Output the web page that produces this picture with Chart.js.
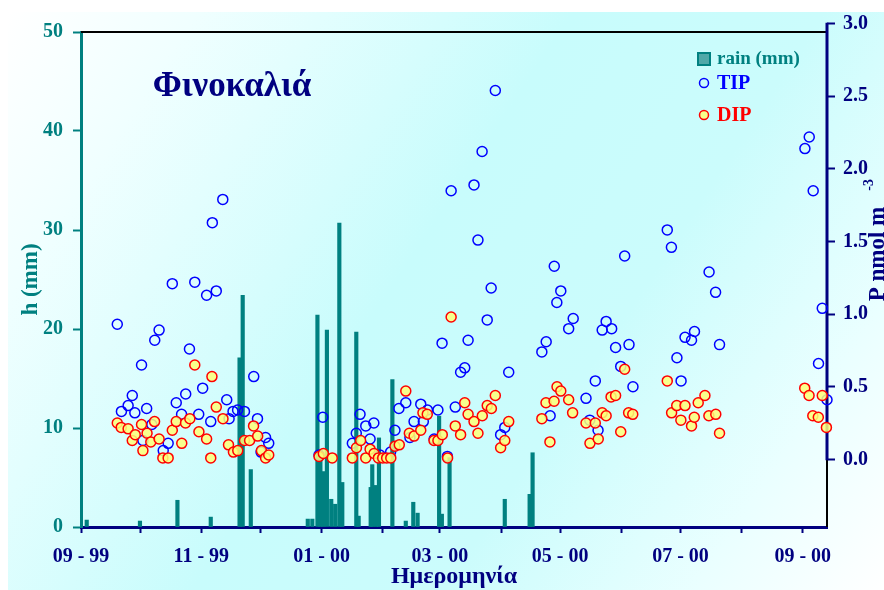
<!DOCTYPE html>
<html>
<head>
<meta charset="utf-8">
<script src="https://cdn.jsdelivr.net/npm/chart.js@4.4.0/dist/chart.umd.min.js"></script>
<style>
html, body { margin: 0; padding: 0; background: #fff; }
#chart { display: block; }
</style>
</head>
<body>
<canvas id="chart" width="884" height="590"></canvas>
<script>
// x values are days counted from 1 Sep 1999
var tickDays = [0, 30, 61, 91, 122, 153, 182, 213, 243, 274, 304, 335, 366];
var tickLabels = ['09 - 99', '', '11 - 99', '', '01 - 00', '', '03 - 00', '', '05 - 00', '', '07 - 00', '', '09 - 00'];
var pTicks = [0, 0.5, 1, 1.5, 2, 2.5, 3];

var rainDays = [2.9, 29.9, 48.9, 65.8, 80.4, 82.0, 86.1, 115.0, 117.3, 119.9, 121.4, 122.9, 124.7, 126.9, 128.9,
    131.0, 132.5, 139.6, 140.8, 146.9, 147.7, 149.6, 151.1, 157.9, 164.7, 168.5, 170.7, 181.6, 183.0, 186.9,
    214.9, 227.5, 229.0];
var rainMm = [0.7, 0.6, 2.7, 1.0, 17.1, 23.4, 5.8, 0.8, 0.8, 21.4, 7.8, 5.6, 19.9, 2.8, 2.3,
    30.7, 4.5, 19.7, 1.1, 4.0, 6.3, 4.2, 9.0, 14.9, 0.6, 2.5, 1.4, 11.2, 1.3, 7.0,
    2.8, 3.3, 7.5];

var tipDays = [18.4, 20.5, 23.9, 26.0, 27.3, 30.7, 31.4, 33.3, 35.9, 37.4, 39.6, 41.7, 44.2, 46.3, 48.3,
    51.0, 53.1, 55.0, 57.7, 59.7, 61.7, 63.7, 65.8, 66.6, 68.6, 71.9, 73.9, 75.1, 77.1, 79.4,
    82.9, 87.6, 89.5, 91.3, 93.6, 95.2, 120.7, 122.6, 137.6, 139.6, 141.5, 144.4, 146.6, 148.5, 151.6,
    157.0, 159.2, 161.2, 164.7, 166.8, 168.9, 172.3, 173.6, 175.7, 179.1, 181.0, 183.1, 185.8, 187.7, 189.8,
    192.5, 194.6, 196.3, 199.3, 201.3, 203.4, 206.0, 208.0, 210.1, 212.8, 214.9, 216.9, 233.7, 235.9, 237.9,
    240.0, 241.3, 243.3, 247.3, 249.6, 256.1, 258.0, 260.8, 262.2, 264.3, 266.3, 269.1, 271.1, 273.7, 275.7,
    277.9, 279.9, 297.3, 299.4, 302.2, 304.3, 306.3, 309.6, 311.1, 318.5, 321.8, 323.8, 367.1, 369.3, 371.3,
    374.0, 375.9, 378.3];
var tipValues = [0.93, 0.33, 0.37, 0.44, 0.32, 0.65, 0.13, 0.35, 0.24, 0.82, 0.89, 0.06, 0.11, 1.21, 0.39,
    0.31, 0.45, 0.76, 1.22, 0.31, 0.49, 1.13, 0.26, 1.63, 1.16, 1.79, 0.41, 0.28, 0.33, 0.34,
    0.33, 0.57, 0.28, 0.05, 0.15, 0.11, 0.03, 0.29, 0.11, 0.18, 0.31, 0.23, 0.14, 0.25, 0.03,
    0.05, 0.20, 0.35, 0.39, 0.15, 0.26, 0.38, 0.26, 0.34, 0.14, 0.34, 0.80, 0.02, 1.85, 0.36,
    0.60, 0.63, 0.82, 1.89, 1.51, 2.12, 0.96, 1.18, 2.54, 0.17, 0.22, 0.60, 0.74, 0.81, 0.30,
    1.33, 1.08, 1.16, 0.90, 0.97, 0.42, 0.27, 0.54, 0.20, 0.89, 0.95, 0.90, 0.77, 0.64, 1.40,
    0.79, 0.50, 1.58, 1.46, 0.70, 0.54, 0.84, 0.82, 0.88, 1.29, 1.15, 0.79, 2.14, 2.22, 1.85,
    0.66, 1.04, 0.41];

var dipDays = [18.4, 20.4, 23.9, 26.0, 27.5, 30.7, 31.4, 33.5, 35.4, 37.3, 39.6, 41.5, 44.2, 46.3, 48.3,
    51.1, 53.0, 55.2, 57.7, 59.8, 63.7, 65.8, 66.4, 68.6, 72.0, 74.8, 77.3, 79.5, 82.9, 85.5,
    87.5, 89.6, 91.5, 93.6, 95.2, 120.7, 122.9, 127.4, 137.6, 139.7, 141.8, 144.4, 146.6, 148.6, 150.8,
    153.0, 155.0, 157.1, 159.2, 161.4, 164.7, 166.5, 168.9, 172.3, 173.4, 175.6, 179.0, 181.0, 183.2, 185.9,
    187.7, 189.8, 192.5, 194.6, 196.3, 199.3, 201.3, 203.5, 206.0, 208.1, 210.1, 212.8, 214.9, 216.9, 233.7,
    235.8, 237.8, 239.9, 241.4, 243.3, 247.3, 249.3, 256.1, 258.1, 260.8, 262.3, 264.3, 266.3, 268.8, 271.1,
    273.7, 275.7, 277.7, 279.8, 297.3, 299.5, 302.1, 304.2, 306.3, 309.6, 311.0, 313.0, 316.4, 318.4, 321.9,
    323.8, 367.0, 369.2, 371.1, 373.9, 375.9, 378.0];
var dipValues = [0.25, 0.22, 0.21, 0.13, 0.17, 0.24, 0.06, 0.18, 0.12, 0.26, 0.14, 0.01, 0.01, 0.20, 0.26,
    0.11, 0.25, 0.28, 0.65, 0.19, 0.14, 0.01, 0.57, 0.36, 0.28, 0.10, 0.05, 0.06, 0.13, 0.13,
    0.23, 0.16, 0.06, 0.01, 0.03, 0.02, 0.04, 0.01, 0.01, 0.08, 0.13, 0.01, 0.07, 0.04, 0.01,
    0.01, 0.01, 0.01, 0.09, 0.10, 0.47, 0.18, 0.16, 0.20, 0.32, 0.31, 0.13, 0.13, 0.17, 0.01,
    0.98, 0.23, 0.17, 0.39, 0.31, 0.26, 0.18, 0.30, 0.37, 0.35, 0.44, 0.08, 0.13, 0.26, 0.28,
    0.39, 0.12, 0.40, 0.50, 0.47, 0.41, 0.32, 0.25, 0.11, 0.25, 0.14, 0.32, 0.30, 0.43, 0.44,
    0.19, 0.62, 0.32, 0.31, 0.54, 0.32, 0.37, 0.27, 0.37, 0.23, 0.29, 0.39, 0.44, 0.30, 0.31,
    0.18, 0.49, 0.44, 0.30, 0.29, 0.44, 0.22];

var teal = '#008080';
var navy = '#000080';
var serif = '"Liberation Serif", "DejaVu Serif", serif';

function pairs(xs, ys) {
    return xs.map(function(x, i) { return { x: x, y: ys[i] }; });
}

var decor = {
    id: 'decor',
    beforeDraw: function(chart) {
        var c = chart.ctx;
        c.save();
        c.fillStyle = '#ffffff';
        c.fillRect(0, 0, chart.width, chart.height);
        var g = c.createLinearGradient(8, 12, 884, 590);
        g.addColorStop(0, '#ffffff');
        g.addColorStop(0.15, '#f0ffff');
        g.addColorStop(0.45, '#c8fcfc');
        g.addColorStop(0.65, '#cbfcfc');
        g.addColorStop(0.85, '#eaffff');
        g.addColorStop(1, '#ffffff');
        c.fillStyle = g;
        c.fillRect(8, 12, chart.width - 8, chart.height - 12);
        c.restore();
    },
    beforeDatasetsDraw: function(chart) {
        var c = chart.ctx, a = chart.chartArea, p = chart.scales.y2;
        var y0 = p.getPixelForValue(0), yTop = p.getPixelForValue(3);
        c.save();
        c.strokeStyle = '#000';
        c.lineWidth = 2;
        c.beginPath();
        c.moveTo(a.left, a.top);
        c.lineTo(a.right, a.top);
        c.moveTo(a.right, a.bottom);
        c.lineTo(a.right, y0);
        c.stroke();
        c.strokeStyle = navy;
        c.lineWidth = 3;
        c.beginPath();
        c.moveTo(a.right, y0 + 1);
        c.lineTo(a.right, yTop - 1);
        c.stroke();
        c.restore();
    },
    afterDraw: function(chart) {
        var c = chart.ctx;
        c.save();
        // station name
        c.fillStyle = navy;
        c.font = 'bold 35px ' + serif;
        c.textAlign = 'center';
        c.textBaseline = 'alphabetic';
        c.fillText('Φινοκαλιά', 232, 96);

        // legend
        c.textAlign = 'left';
        c.textBaseline = 'middle';
        c.fillStyle = '#4fa8a8';
        c.fillRect(698, 53, 12, 12);
        c.strokeStyle = teal;
        c.lineWidth = 2;
        c.strokeRect(698, 53, 12, 12);
        c.font = 'bold 19px ' + serif;
        c.fillStyle = teal;
        c.fillText('rain (mm)', 717, 59);

        c.lineWidth = 1.5;
        c.strokeStyle = '#0000ff';
        c.beginPath();
        c.arc(704, 83, 4.5, 0, Math.PI * 2);
        c.stroke();
        c.font = 'bold 20px ' + serif;
        c.fillStyle = '#0000ff';
        c.fillText('TIP', 717, 84);

        c.fillStyle = 'rgba(255,255,120,0.85)';
        c.strokeStyle = '#ff0000';
        c.beginPath();
        c.arc(704, 115, 4.5, 0, Math.PI * 2);
        c.fill();
        c.stroke();
        c.fillStyle = '#ff0000';
        c.fillText('DIP', 717, 116);

        // right axis title, read bottom to top
        c.translate(884, 254);
        c.rotate(-Math.PI / 2);
        c.fillStyle = navy;
        c.font = 'bold 23px ' + serif;
        c.textAlign = 'center';
        c.textBaseline = 'alphabetic';
        c.fillText('P nmol m', 0, 0);
        var w = c.measureText('P nmol m').width;
        c.font = 'bold 14px ' + serif;
        c.textAlign = 'left';
        c.fillText('-3', w / 2 + 16, -11);
        c.restore();
    }
};

var ctx = document.getElementById('chart').getContext('2d');
var myChart = new Chart(ctx, {
    type: 'bar',
    data: {
        datasets: [{
            type: 'scatter',
            label: 'DIP',
            data: pairs(dipDays, dipValues),
            yAxisID: 'y2',
            pointRadius: 5,
            pointBorderWidth: 1.5,
            borderColor: '#ff0000',
            backgroundColor: 'rgba(255,255,120,0.85)',
            clip: false,
            order: 0
        }, {
            type: 'scatter',
            label: 'TIP',
            data: pairs(tipDays, tipValues),
            yAxisID: 'y2',
            pointRadius: 5,
            pointBorderWidth: 1.5,
            borderColor: '#0000ff',
            backgroundColor: 'rgba(0,0,0,0)',
            clip: false,
            order: 1
        }, {
            type: 'bar',
            label: 'rain (mm)',
            data: pairs(rainDays, rainMm),
            yAxisID: 'y',
            backgroundColor: teal,
            borderWidth: 0,
            barThickness: 3.5,
            grouped: false,
            order: 2
        }]
    },
    options: {
        responsive: false,
        animation: false,
        layout: { padding: { top: 32, left: 0, right: 0, bottom: 0 } },
        plugins: {
            legend: { display: false },
            tooltip: { enabled: false }
        },
        scales: {
            x: {
                type: 'linear',
                position: 'bottom',
                min: 0,
                max: 378.3,
                offset: false,
                afterBuildTicks: function(scale) {
                    scale.ticks = tickDays.map(function(d) { return { value: d }; });
                },
                afterFit: function(scale) { scale.height = 63; },
                grid: { drawOnChartArea: false, offset: false, tickLength: 6, tickWidth: 2, tickColor: navy },
                border: { color: navy, width: 3 },
                ticks: {
                    autoSkip: false,
                    maxRotation: 0,
                    padding: 12,
                    color: navy,
                    font: { family: serif, size: 20, weight: 'bold' },
                    callback: function(value, index) { return tickLabels[index]; }
                },
                title: {
                    display: true,
                    text: 'Ημερομηνία',
                    color: navy,
                    font: { family: serif, size: 24, weight: 'bold' },
                    padding: { top: 0, bottom: -1 }
                }
            },
            y: {
                position: 'left',
                min: 0,
                max: 50,
                afterFit: function(scale) { scale.width = 81; },
                grid: { drawOnChartArea: false, tickLength: 8, tickWidth: 2, tickColor: teal },
                border: { color: teal, width: 3 },
                ticks: {
                    stepSize: 10,
                    padding: 10,
                    color: teal,
                    font: { family: serif, size: 20, weight: 'bold' }
                },
                title: {
                    display: true,
                    text: 'h (mm)',
                    color: teal,
                    font: { family: serif, size: 23, weight: 'bold' },
                    padding: { top: 17, bottom: 0 }
                }
            },
            y2: {
                position: 'right',
                min: -0.466,
                max: 2.943,
                afterBuildTicks: function(scale) {
                    scale.ticks = pTicks.map(function(v) { return { value: v }; });
                },
                afterFit: function(scale) { scale.width = 57; },
                grid: { drawOnChartArea: false, tickLength: 8, tickWidth: 2, tickColor: navy },
                border: { display: false },
                ticks: {
                    autoSkip: false,
                    padding: 8,
                    color: navy,
                    font: { family: serif, size: 20, weight: 'bold' },
                    callback: function(value) { return value.toFixed(1); }
                }
            }
        }
    },
    plugins: [decor]
});
</script>
</body>
</html>
